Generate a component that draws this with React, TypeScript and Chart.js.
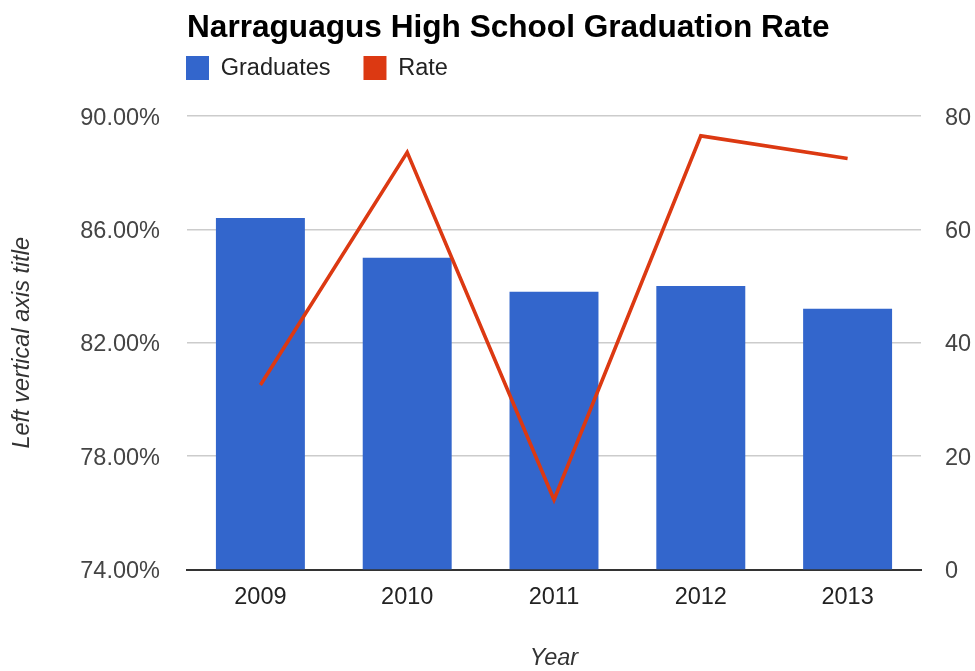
import React, { useEffect, useRef } from "react";
import { Chart, registerables } from "chart.js";

Chart.register(...registerables);

const categories = ["2009", "2010", "2011", "2012", "2013"];
const graduates = [62, 55, 49, 50, 46];
const rate = [80.51, 88.72, 76.46, 89.3, 88.5];
const rateTicks = [74, 78, 82, 86, 90];
const gradTicks = [0, 20, 40, 60, 80];

const FONT = "'Liberation Sans', Arial, sans-serif";

const legendShift = {
  id: "legendShift",
  afterLayout(chart: any) {
    const lg = chart.legend;
    if (lg) {
      lg.left -= 34;
      lg.top -= 26;
    }
  },
};

export default function App() {
  const ref = useRef<HTMLCanvasElement | null>(null);

  useEffect(() => {
    if (!ref.current) return;
    const chart = new Chart(ref.current, {
      type: "bar",
      data: {
        labels: categories,
        datasets: [
          {
            type: "bar",
            label: "Graduates",
            data: graduates,
            yAxisID: "yR",
            backgroundColor: "#3366cc",
            borderWidth: 0,
            barPercentage: 0.606,
            categoryPercentage: 1,
            order: 1,
          },
          {
            type: "line",
            label: "Rate",
            data: rate,
            yAxisID: "yL",
            borderColor: "#dc3912",
            backgroundColor: "#dc3912",
            borderWidth: 3.6,
            pointRadius: 0,
            tension: 0,
            order: 0,
          },
        ] as any,
      },
      plugins: [legendShift],
      options: {
        responsive: false,
        animation: false,
        devicePixelRatio: 1,
        layout: { padding: 0 },
        plugins: {
          title: {
            display: true,
            text: "Narraguagus High School Graduation Rate",
            align: "start",
            fullSize: false,
            color: "#000",
            font: { family: FONT, size: 31.6, weight: "bold", lineHeight: 1.2 },
            padding: { top: 9, bottom: 2.1 },
          },
          legend: {
            display: true,
            align: "start",
            fullSize: false,
            labels: {
              boxWidth: 23,
              boxHeight: 24,
              padding: 33,
              color: "#222",
              font: { family: FONT, size: 23.5 },
              sort: (a: any, b: any) => a.datasetIndex - b.datasetIndex,
              generateLabels(chart: any) {
                const items = Chart.defaults.plugins.legend.labels.generateLabels(chart);
                return items.map((it: any) => ({
                  ...it,
                  lineWidth: 0,
                  fillStyle: it.text === "Rate" ? "#dc3912" : it.fillStyle,
                }));
              },
            },
          },
          tooltip: { enabled: false },
        },
        scales: {
          x: {
            type: "category",
            grid: { display: false, drawTicks: false },
            border: { display: true, color: "#333", width: 2 },
            ticks: {
              color: "#222",
              font: { family: FONT, size: 23.5 },
              padding: 14,
              maxRotation: 0,
            },
            title: {
              display: true,
              text: "Year",
              color: "#333",
              font: { family: FONT, size: 23.5, style: "italic", lineHeight: 1 },
              padding: { top: 0, bottom: 1 },
            },
            afterFit(scale: any) {
              scale.height = 101.5;
            },
          },
          yL: {
            type: "linear",
            position: "left",
            min: 74,
            max: 90,
            afterBuildTicks(scale: any) {
              scale.ticks = rateTicks.map((v) => ({ value: v }));
            },
            grid: { color: "#cccccc", lineWidth: 1.5, drawTicks: false },
            border: { display: false },
            ticks: {
              color: "#444",
              font: { family: FONT, size: 23.5 },
              padding: 27,
              labelOffset: 2,
              callback: (v: any) => Number(v).toFixed(2) + "%",
            },
            title: {
              display: true,
              text: "Left vertical axis title",
              color: "#333",
              font: { family: FONT, size: 23.5, style: "italic", lineHeight: 1 },
              padding: { top: 10.5, bottom: 0 },
            },
            afterFit(scale: any) {
              scale.width = 187;
            },
          },
          yR: {
            type: "linear",
            position: "right",
            min: 0,
            max: 80,
            afterBuildTicks(scale: any) {
              scale.ticks = gradTicks.map((v) => ({ value: v }));
            },
            grid: { display: false, drawTicks: false },
            border: { display: false },
            ticks: {
              color: "#444",
              font: { family: FONT, size: 23.5 },
              padding: 24,
              labelOffset: 2,
            },
            afterFit(scale: any) {
              scale.width = 54;
            },
          },
        },
      } as any,
    });
    return () => chart.destroy();
  }, []);

  return (
    <canvas
      ref={ref}
      width={975}
      height={671}
      style={{ position: "absolute", left: 0, top: 0, width: 975, height: 671 }}
    />
  );
}
